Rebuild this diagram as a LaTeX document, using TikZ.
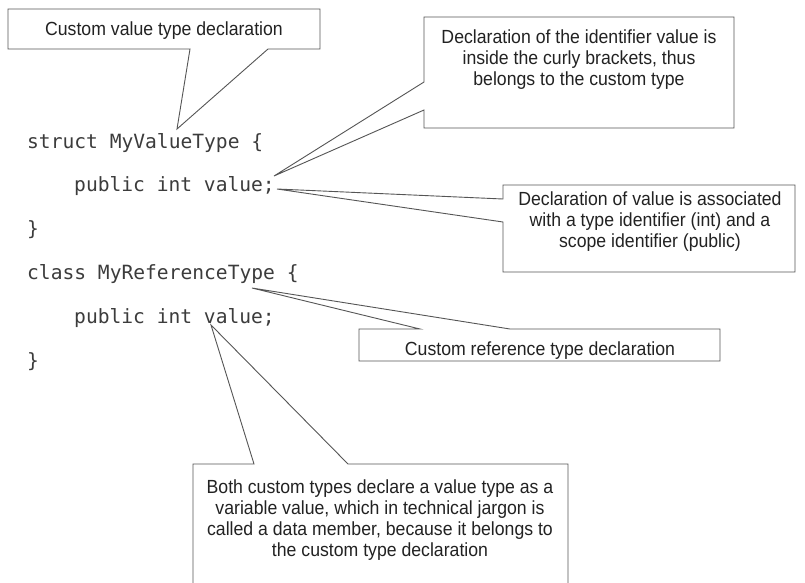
\documentclass[tikz,border=0pt]{standalone}
\usepackage{fontspec}
\setmonofont{DejaVu Sans Mono}
\newfontfamily\notefont{Liberation Sans}[FakeStretch=0.93]
\definecolor{codegray}{HTML}{3C3C3C}
\definecolor{notegray}{HTML}{222222}
\definecolor{linegray}{HTML}{555555}
\begin{document}
\begin{tikzpicture}[x=1pt, y=-1pt,
    code/.style={anchor=base west, inner sep=0, text=codegray, font=\ttfamily\fontsize{19.6}{22}\selectfont},
    frame/.style={inner sep=0, outer sep=0},
    note/.style={anchor=base, align=center, inner sep=0, text=notegray, font=\notefont\fontsize{19}{21}\selectfont},
    callout/.style={draw=linegray, line width=0.9pt, line join=miter}]
    \clip (0,0) rectangle (805,582);
    \fill[white] (0,0) rectangle (805,582);

    \node[code] (structdecl) at (27,148) {struct MyValueType \{};
    \node[code] (structmember) at (74,191.8) {public int value;};
    \node[code] (structclose) at (27,235.6) {\}};
    \node[code] (classdecl) at (27,279.4) {class MyReferenceType \{};
    \node[code] (classmember) at (74,323.2) {public int value;};
    \node[code] (classclose) at (27,367) {\}};

    \node[frame, minimum width=312pt, minimum height=40pt] (valuebox) at (164,29) {};
    \node[note] (valuetext) at (164,35) {Custom value type declaration};
    \coordinate (valuegapl) at (190,49);
    \coordinate (valuegapr) at (268,49);
    \coordinate (valuetip) at (177,129);
    \draw[callout] (valuegapl) -- (valuebox.south west) -- (valuebox.north west) -- (valuebox.north east)
        -- (valuebox.south east) -- (valuegapr) -- (valuetip) -- cycle;

    \node[frame, minimum width=310pt, minimum height=111pt] (bracketbox) at (579,72.5) {};
    \node[note] (brackettext) at (579,85) {Declaration of the identifier value is\\inside the curly brackets, thus\\belongs to the custom type};
    \coordinate (bracketgapt) at (424,82);
    \coordinate (bracketgapb) at (424,110);
    \coordinate (brackettip) at (274,176);
    \draw[callout] (bracketgapt) -- (bracketbox.north west) -- (bracketbox.north east) -- (bracketbox.south east)
        -- (bracketbox.south west) -- (bracketgapb) -- (brackettip) -- cycle;

    \node[frame, minimum width=292pt, minimum height=87pt] (scopebox) at (649,228.5) {};
    \node[note] (scopetext) at (650,247) {Declaration of value is associated\\with a type identifier (int) and a\\scope identifier (public)};
    \coordinate (scopegapt) at (503,199);
    \coordinate (scopegapb) at (503,222);
    \coordinate (scopetip) at (277,189);
    \draw[callout] (scopegapt) -- (scopebox.north west) -- (scopebox.north east) -- (scopebox.south east)
        -- (scopebox.south west) -- (scopegapb) -- (scopetip) -- cycle;

    \node[frame, minimum width=361pt, minimum height=32pt] (refbox) at (539.5,345) {};
    \node[note] (reftext) at (540,355) {Custom reference type declaration};
    \coordinate (refgapl) at (420,329);
    \coordinate (refgapr) at (510,329);
    \coordinate (reftip) at (252,288);
    \draw[callout] (refgapr) -- (refbox.north east) -- (refbox.south east) -- (refbox.south west)
        -- (refbox.north west) -- (refgapl) -- (reftip) -- cycle;

    \node[frame, minimum width=375pt, minimum height=136pt] (memberbox) at (380.5,532) {};
    \node[note] (membertext) at (380,556) {Both custom types declare a value type as a\\variable value, which in technical jargon is\\called a data member, because it belongs to\\the custom type declaration};
    \coordinate (membergapl) at (254,464);
    \coordinate (membergapr) at (348,464);
    \coordinate (membertip) at (211,325);
    \draw[callout] (membergapr) -- (memberbox.north east) -- (memberbox.south east) -- (memberbox.south west)
        -- (memberbox.north west) -- (membergapl) -- (membertip) -- cycle;
\end{tikzpicture}
\end{document}
